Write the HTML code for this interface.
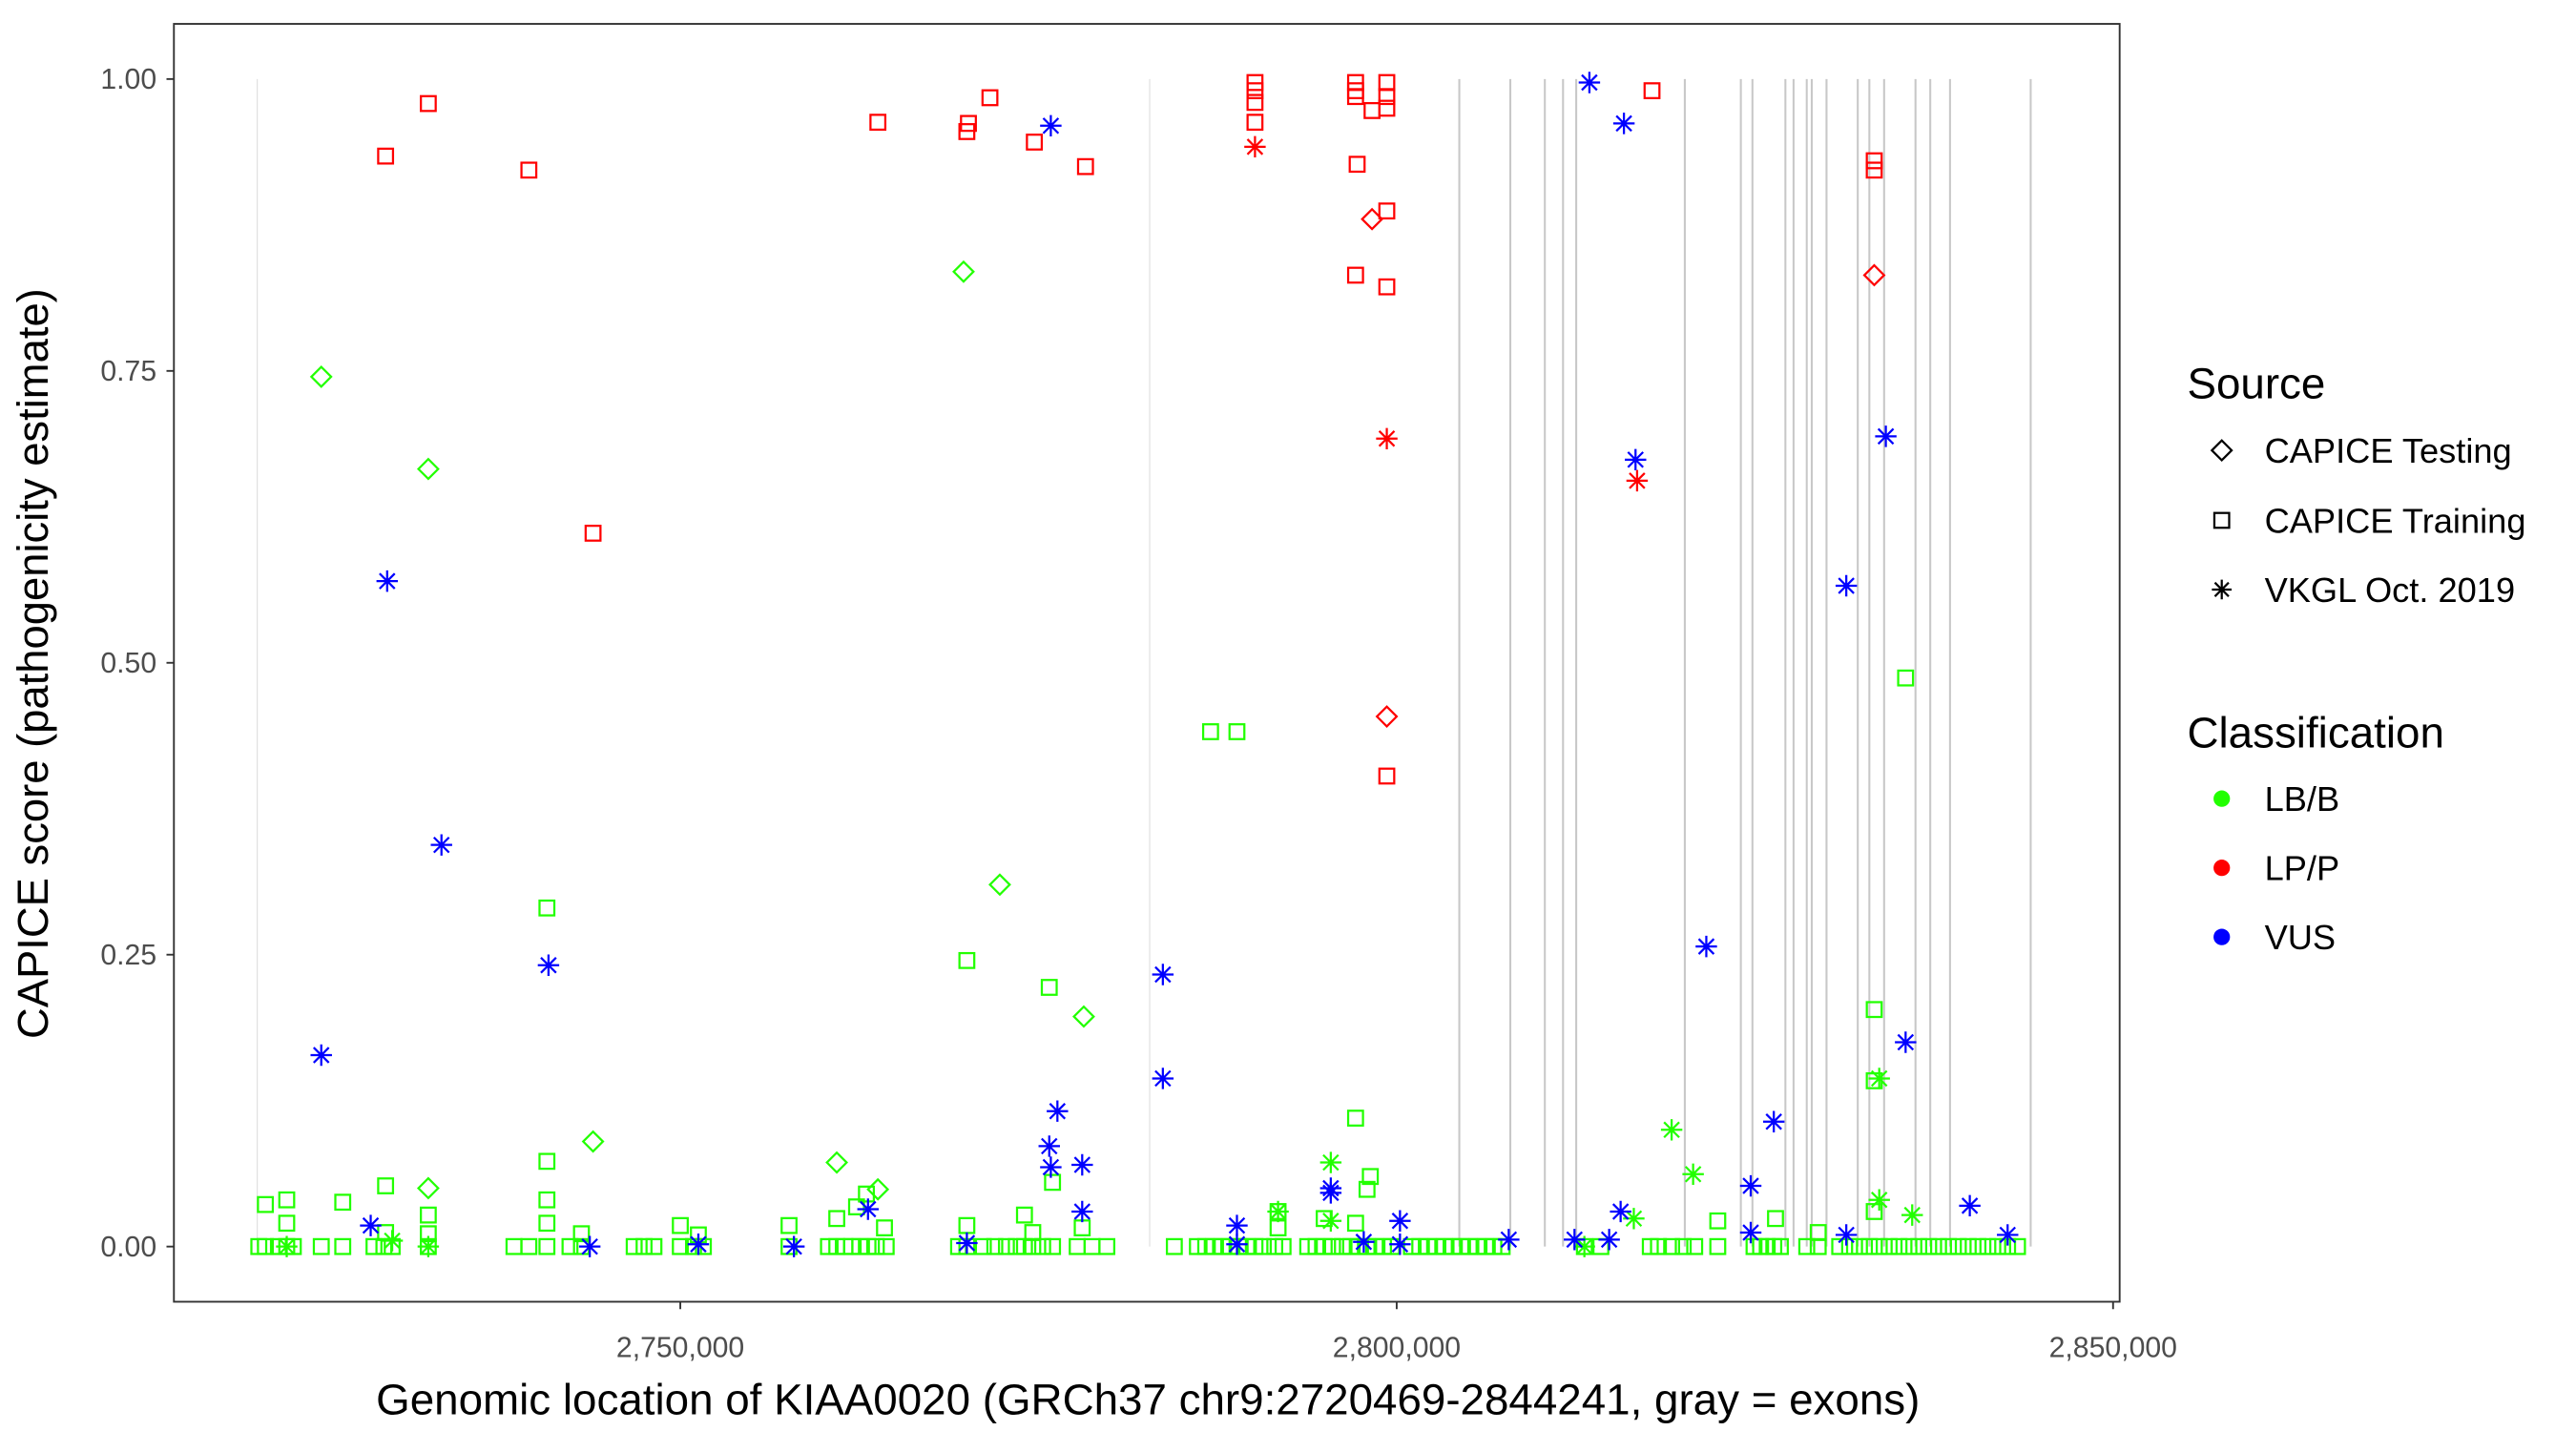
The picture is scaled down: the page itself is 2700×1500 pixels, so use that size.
<!DOCTYPE html>
<html><head><meta charset="utf-8"><style>
html,body{margin:0;padding:0;background:#fff;}
svg{display:block;font-family:"Liberation Sans",Arial,sans-serif;}
</style></head><body>
<svg id="chart" width="2700" height="1500" viewBox="3 0 1564 869" xmlns="http://www.w3.org/2000/svg">
<rect x="0" y="0" width="1570" height="869" fill="#fff"/>
<g id="exons"></g>
<g id="marks"></g>
<rect x="108.5" y="14.5" width="1181.5" height="776" fill="none" stroke="#333" stroke-width="1.1"/>
<g id="yaxis"></g>
<g id="xaxis"></g>
<text transform="translate(32,403) rotate(-90)" text-anchor="middle" font-size="26.3" fill="#000">CAPICE score (pathogenicity estimate)</text>
<text x="700" y="859" text-anchor="middle" font-size="26.5" fill="#000">Genomic location of KIAA0020 (GRCh37 chr9:2720469-2844241, gray = exons)</text>
<g>
<text x="1331" y="242" font-size="26.5">Source</text>
<g><path d="M1346,273.5 L1352,267.5 L1358,273.5 L1352,279.5 Z" fill="none" stroke="#000" stroke-width="1.3"/><text x="1378" y="281" font-size="21">CAPICE Testing</text></g>
<g><rect x="1347.5" y="311.5" width="9" height="9" fill="none" stroke="#000" stroke-width="1.3"/><text x="1378" y="323.5" font-size="21">CAPICE Training</text></g>
<g><path d="M1352,352 V364 M1346,358 H1358 M1347.8,353.8 L1356.2,362.2 M1356.2,353.8 L1347.8,362.2" stroke="#000" stroke-width="1.3"/><text x="1378" y="365.5" font-size="21">VKGL Oct. 2019</text></g>
</g>
<g>
<text x="1331" y="454" font-size="26.5">Classification</text>
<g><circle cx="1352" cy="485" r="5" fill="#22ff00"/><text x="1378" y="492.5" font-size="21">LB/B</text></g>
<g><circle cx="1352" cy="527" r="5" fill="#ff0000"/><text x="1378" y="534.5" font-size="21">LP/P</text></g>
<g><circle cx="1352" cy="569" r="5" fill="#0000ff"/><text x="1378" y="576.5" font-size="21">VUS</text></g>
</g>
</svg>
<script>
// positions in kb (chr9), scores 0..1
const exonPos = [2720.47,2782.76,2804.37,2807.93,2810.34,2811.61,2812.53,2820.11,2824.02,2824.83,2827.13,2827.70,2828.62,2828.97,2830.00,2832.18,2832.99,2834.02,2836.21,2837.24,2838.62,2844.25];
const yTicks = [0,0.25,0.5,0.75,1];
const yTickLabels = ["0.00","0.25","0.50","0.75","1.00"];
const xTicks = [2750,2800,2850];
const xTickLabels = ["2,750,000","2,800,000","2,850,000"];

const trainLBPos = [2787.01,2788.85,2770.00,2775.75,2740.69,2835.52,2833.33,2833.33,2797.13,2740.69,
 2721.04,2722.53,2722.53,2726.44,2729.43,2729.43,2732.41,2732.41,2740.69,2740.69,2743.10,2750.00,2751.26,2757.59,2760.92,2762.30,2762.99,2764.25,2770.00,2774.02,2774.60,2775.98,2778.05,2791.72,2791.72,2794.94,2797.93,2798.16,2797.13,2822.41,2826.44,2829.42,2833.33,
 2720.58,2721.04,2721.95,2722.53,2722.99,2724.94,2726.44,2728.62,2729.31,2729.89,2732.41,2738.39,2739.43,2740.69,2742.30,2743.10,2746.78,2747.47,2748.16,2750.00,2750.92,2751.61,2757.59,2760.34,2760.92,2761.49,2761.95,2762.53,2763.10,2763.68,2764.37,2769.42,2770.00,2771.15,2771.95,2772.76,2773.45,2774.02,2774.60,2775.29,2775.98,2777.70,2778.74,2779.77,2784.48,2786.09,2786.67,2787.24,2787.82,2788.39,2788.96,2789.54,2790.11,2790.69,2791.49,2792.07,2793.79,2794.37,2794.94,2795.52,2796.21,2796.78,2797.36,2797.93,2798.51,2799.08,2799.66,
 2801.03,2801.61,2802.18,2802.76,2803.33,2803.91,2804.48,2805.06,2805.63,2806.21,2806.78,2807.36,2813.10,2814.25,2817.70,2818.27,2819.19,2820.00,2820.80,2822.41,2824.94,2825.40,2825.86,2826.32,2826.78,2828.62,2829.42,
 2830.92,2831.61,2832.30,2832.99,2833.68,2834.37,2835.06,2835.75,2836.44,2837.13,2837.82,2838.51,2839.20,2839.89,2840.57,2841.26,2841.95,2842.64,2843.33];
const trainLBScore = [0.441,0.441,0.245,0.222,0.29,0.487,0.203,0.142,0.11,0.073,
 0.036,0.04,0.02,0.038,0.052,0.012,0.027,0.011,0.04,0.02,0.011,0.018,0.01,0.018,0.024,0.034,0.045,0.016,0.018,0.027,0.012,0.055,0.016,0.03,0.016,0.024,0.049,0.06,0.02,0.022,0.024,0.012,0.03,
 0,0,0,0,0,0,0,0,0,0,0,0,0,0,0,0,0,0,0,0,0,0,0,0,0,0,0,0,0,0,0,0,0,0,0,0,0,0,0,0,0,0,0,0,0,0,0,0,0,0,0,0,0,0,0,0,0,0,0,0,0,0,0,0,0,0,0,0,
 0,0,0,0,0,0,0,0,0,0,0,0,0,0,0,0,0,0,0,0,0,0,0,0,0,0,0,
 0,0,0,0,0,0,0,0,0,0,0,0,0,0,0,0,0,0,0];
const testLBPos = [2724.94,2732.41,2769.77,2772.30,2778.16,2743.91,2732.41,2760.92,2763.79];
const testLBScore = [0.745,0.666,0.835,0.31,0.197,0.09,0.05,0.072,0.049];
const vkglLBPos = [2819.19,2820.69,2795.40,2833.68,2833.68,2835.98,2791.72,2816.55,2722.53,2729.89,2732.41,2795.40,2813.10];
const vkglLBScore = [0.1,0.062,0.072,0.144,0.04,0.027,0.03,0.024,0,0.005,0,0.022,0];
const trainLPPos = [2729.43,2732.41,2739.43,2743.91,2763.79,2770.00,2770.11,2771.61,2774.71,2778.28,2790.11,2790.11,2790.11,2790.11,2797.13,2797.13,2797.13,2797.24,2797.13,2799.31,2799.31,2799.31,2799.31,2799.31,2799.31,2817.82,2833.33,2833.33,2798.28];
const trainLPScore = [0.934,0.979,0.922,0.611,0.963,0.955,0.962,0.984,0.946,0.925,0.997,0.99,0.98,0.963,0.997,0.99,0.985,0.927,0.832,0.997,0.985,0.975,0.887,0.822,0.403,0.99,0.93,0.922,0.973];
const testLPPos = [2798.28,2799.31,2833.33];
const testLPScore = [0.88,0.454,0.832];
const vkglLPPos = [2790.11,2799.31,2816.78];
const vkglLPScore = [0.942,0.692,0.656];
const vkglVUSPos = [2775.86,2813.45,2815.86,2816.67,2834.14,2831.38,2729.54,2733.33,2740.80,2724.94,2783.68,2783.68,2776.32,2775.75,2775.86,2778.05,2778.05,2821.61,2835.52,2826.32,2824.71,2840.00,2795.40,2795.40,2800.23,2728.39,2815.63,2788.85,2763.10,
 2743.68,2751.26,2757.93,2770.00,2788.85,2797.70,2800.23,2807.82,2812.41,2814.83,2824.71,2831.38,2842.64];
const vkglVUSScore = [0.96,0.997,0.962,0.674,0.694,0.566,0.57,0.344,0.241,0.164,0.233,0.144,0.116,0.086,0.068,0.07,0.03,0.257,0.175,0.107,0.052,0.035,0.05,0.046,0.022,0.018,0.03,0.018,0.032,
 0,0.002,0,0.003,0.002,0.004,0.002,0.006,0.006,0.006,0.012,0.01,0.01];

const GREEN="#22ff00", RED="#ff0000", BLUE="#0000ff";
const NS="http://www.w3.org/2000/svg";
function xScale(kb){ return 416 + (kb-2750)*8.7; }
function yScale(v){ return 757 - v*709; }

const exG=document.getElementById('exons');
exonPos.forEach(function(p,i){
  const l=document.createElementNS(NS,'line');
  
  
  const x=xScale(p);
  l.setAttribute('x1',x);l.setAttribute('x2',x);
  l.setAttribute('y1',yScale(1));l.setAttribute('y2',yScale(0));
  l.setAttribute('stroke',(i<2)?'#e0e0e0':'#c8c8c8');
  l.setAttribute('stroke-width',(i<2)?0.7:1.2);
  exG.appendChild(l);
});

const mG=document.getElementById('marks');
function mark(shape,color,pos,score,name){
  pos.forEach(function(p,i){
    const x=xScale(p), y=yScale(score[i]);
    let el;
    if(shape==='square'){
      el=document.createElementNS(NS,'rect');
      el.setAttribute('x',x-4.5);el.setAttribute('y',y-4.5);
      el.setAttribute('width',9);el.setAttribute('height',9);
      el.setAttribute('fill','none');
    } else if(shape==='diamond'){
      el=document.createElementNS(NS,'path');
      el.setAttribute('d','M'+(x-6)+','+y+' L'+x+','+(y-6)+' L'+(x+6)+','+y+' L'+x+','+(y+6)+' Z');
      el.setAttribute('fill','none');
    } else {
      el=document.createElementNS(NS,'path');
      el.setAttribute('d','M'+x+','+(y-6.5)+' V'+(y+6.5)+' M'+(x-6.5)+','+y+' H'+(x+6.5)+' M'+(x-4.6)+','+(y-4.6)+' L'+(x+4.6)+','+(y+4.6)+' M'+(x+4.6)+','+(y-4.6)+' L'+(x-4.6)+','+(y+4.6));
    }
    el.setAttribute('stroke',color);
    el.setAttribute('stroke-width',1.3);
    
    
    mG.appendChild(el);
  });
}
mark('square',GREEN,trainLBPos,trainLBScore,'point-training-lb-b');
mark('diamond',GREEN,testLBPos,testLBScore,'point-testing-lb-b');
mark('star',GREEN,vkglLBPos,vkglLBScore,'point-vkgl-lb-b');
mark('square',RED,trainLPPos,trainLPScore,'point-training-lp-p');
mark('diamond',RED,testLPPos,testLPScore,'point-testing-lp-p');
mark('star',RED,vkglLPPos,vkglLPScore,'point-vkgl-lp-p');
mark('star',BLUE,vkglVUSPos,vkglVUSScore,'point-vkgl-vus');

const yG=document.getElementById('yaxis');
yTicks.forEach(function(v,i){
  const y=yScale(v);
  const t=document.createElementNS(NS,'line');
  
  
  t.setAttribute('x1',104);t.setAttribute('x2',108.5);t.setAttribute('y1',y);t.setAttribute('y2',y);
  t.setAttribute('stroke','#333');t.setAttribute('stroke-width',1.1);
  yG.appendChild(t);
  const tx=document.createElementNS(NS,'text');
  
  
  tx.setAttribute('x',98);tx.setAttribute('y',y+6);
  tx.setAttribute('text-anchor','end');tx.setAttribute('font-size','17.5');tx.setAttribute('fill','#4d4d4d');
  tx.textContent=yTickLabels[i];
  yG.appendChild(tx);
});
const xG=document.getElementById('xaxis');
xTicks.forEach(function(v,i){
  const x=xScale(v);
  const t=document.createElementNS(NS,'line');
  
  
  t.setAttribute('x1',x);t.setAttribute('x2',x);t.setAttribute('y1',790.5);t.setAttribute('y2',795);
  t.setAttribute('stroke','#333');t.setAttribute('stroke-width',1.1);
  xG.appendChild(t);
  const tx=document.createElementNS(NS,'text');
  
  
  tx.setAttribute('x',x);tx.setAttribute('y',824);
  tx.setAttribute('text-anchor','middle');tx.setAttribute('font-size','17.5');tx.setAttribute('fill','#4d4d4d');
  tx.textContent=xTickLabels[i];
  xG.appendChild(tx);
});
</script>
</body></html>
